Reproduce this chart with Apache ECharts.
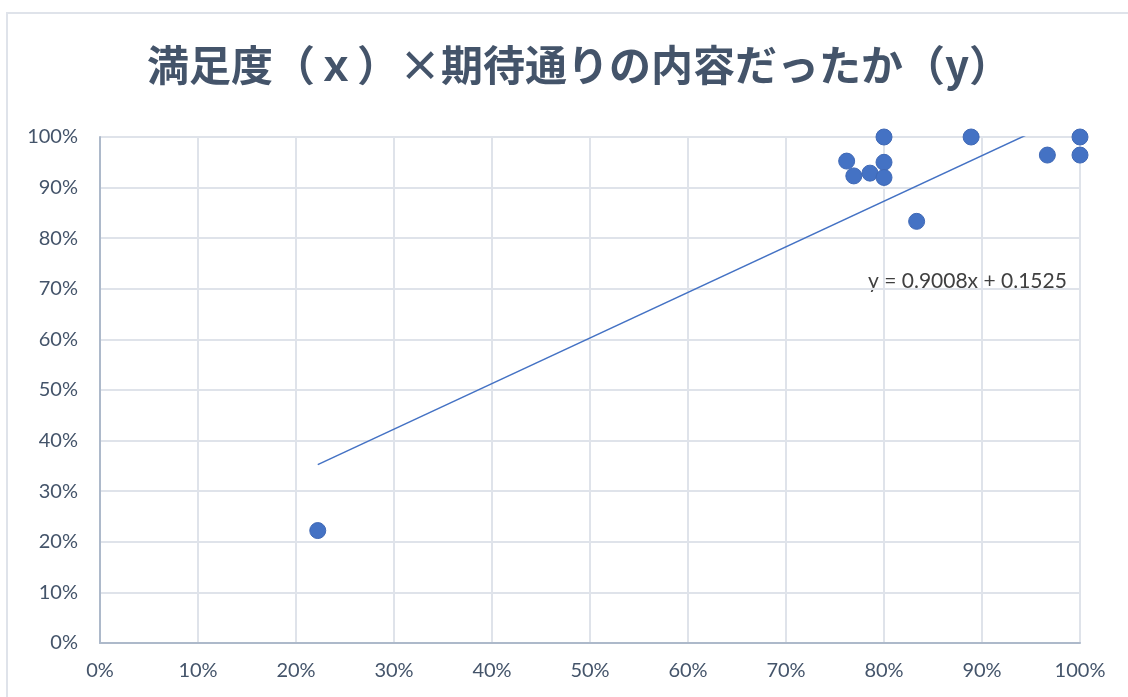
<!DOCTYPE html>
<html><head><meta charset="utf-8">
<script src="https://cdn.jsdelivr.net/npm/echarts@6/dist/echarts.min.js"></script>
<style>html,body{margin:0;padding:0;background:#fff}#c{width:1128px;height:697px}</style>
</head><body><div id="c"></div>
<script>
const titleText = '満足度（ｘ）×期待通りの内容だったか（y）';
const xValues = [0.2222, 0.7619, 0.7692, 0.7857, 0.80, 0.80, 0.80, 0.8333, 0.8889, 0.9667, 1.00, 1.00];
const yValues = [0.2222, 0.9524, 0.9231, 0.9286, 1.00, 0.95, 0.92, 0.8333, 1.00, 0.9643, 1.00, 0.9643];
const slope = 0.9008;
const intercept = 0.1525;
const equationLabel = 'y = 0.9008x + 0.1525';

const points = xValues.map((x, i) => [x, yValues[i]]);
const xMin = Math.min(...xValues), xMax = Math.max(...xValues);
const trend = [[xMin, slope * xMin + intercept], [xMax, slope * xMax + intercept]];
const pct = v => Math.round(v * 100) + '%';
const font = 'Lato, "Noto Sans", sans-serif';
const labelColor = '#44546A';

const chart = echarts.init(document.getElementById('c'));
chart.setOption({
  animation: false,
  title: {
    text: titleText, left: 574, top: 39, textAlign: 'center',
    textStyle: {fontFamily: '"Noto Sans CJK JP", sans-serif', fontWeight: 'bold', fontSize: 42, color: '#44546A'}
  },
  grid: {left: 100, right: 48, top: 137, bottom: 54},
  xAxis: {
    type: 'value', min: 0, max: 1, interval: 0.1,
    axisLine: {show: true, lineStyle: {color: '#ADB9CA', width: 2}},
    axisTick: {show: false},
    splitLine: {show: true, lineStyle: {color: '#DFE3EA', width: 2}},
    axisLabel: {formatter: pct, color: labelColor, fontSize: 20, fontFamily: font, margin: 18}
  },
  yAxis: {
    type: 'value', min: 0, max: 1, interval: 0.1,
    axisLine: {show: true, lineStyle: {color: '#ADB9CA', width: 2}},
    axisTick: {show: false},
    splitLine: {show: true, lineStyle: {color: '#DFE3EA', width: 2}},
    axisLabel: {formatter: pct, color: labelColor, fontSize: 20, fontFamily: font, margin: 22}
  },
  graphic: [
    {type: 'rect', shape: {x: 7, y: 13, width: 1130, height: 700}, style: {fill: 'none', stroke: '#DFE3EA', lineWidth: 2}, silent: true, z: -1},
    {type: 'text', left: 868, top: 271, style: {text: equationLabel, fontSize: 21, fontFamily: font, fill: '#404040'}}
  ],
  series: [
    {type: 'line', data: trend, symbol: 'none', clip: true, lineStyle: {color: '#4472C4', width: 1.5}, z: 2},
    {type: 'scatter', data: points, symbolSize: 16, itemStyle: {color: '#4472C4', borderColor: '#3F68B5', borderWidth: 1, opacity: 1}, z: 3}
  ]
});
</script></body></html>
